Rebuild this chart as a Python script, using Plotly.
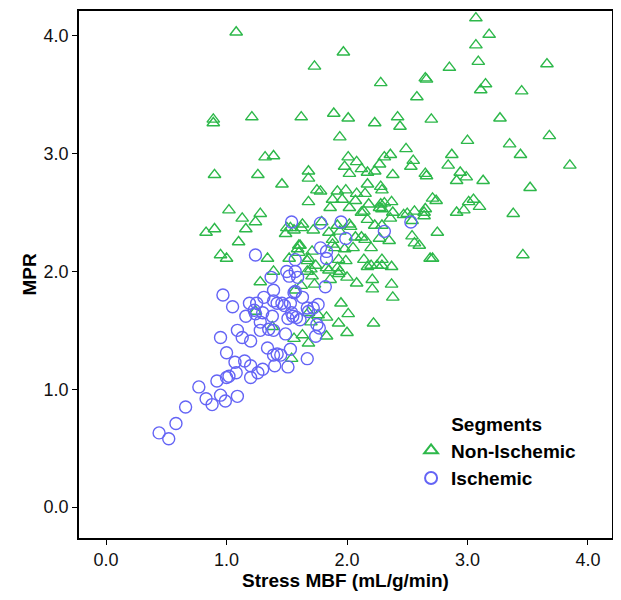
import plotly.graph_objects as go

# Non-Ischemic segments (Stress MBF, MPR)
non_isch_mbf = [1.08, 3.07, 3.18, 3.07, 3.09, 3.66, 2.85, 1.97, 2.28, 2.65, 2.66, 3.15, 3.11, 3.45, 2.58,
                1.73, 0.89, 0.89, 1.21, 1.62, 1.89, 2.01, 2.23, 2.42, 2.44, 2.70, 3.27, 1.94, 3.00, 3.35,
                3.68, 2.49, 3.44, 2.87, 2.01, 2.31, 2.36, 2.55, 2.08, 1.98, 2.27, 2.53, 2.84, 3.85, 2.12,
                2.02, 2.17, 2.23, 2.38, 2.65, 2.66, 2.94, 2.99, 3.13, 2.91, 1.32, 1.39, 0.90, 1.26, 1.68,
                1.68, 1.46, 1.75, 1.92, 1.99, 2.08, 2.15, 2.17, 1.68, 1.88, 1.96, 2.07, 2.28, 2.29, 2.18,
                2.28, 2.31, 2.37, 1.86, 2.02, 2.12, 2.14, 2.27, 2.29, 2.38, 2.36, 2.17, 2.47, 2.50, 2.56,
                2.65, 2.64, 2.71, 2.74, 2.64, 2.91, 2.97, 3.01, 1.92, 2.02, 2.03, 2.23, 2.29, 2.54, 2.75,
                1.85, 1.94, 2.07, 2.12, 2.15, 2.27, 2.35, 2.54, 2.56, 2.60, 1.88, 1.88, 1.90, 1.98, 2.05,
                2.20, 1.93, 1.99, 2.14, 2.20, 2.29, 2.29, 2.37, 2.69, 2.71, 1.92, 1.78, 1.49, 1.53, 1.63,
                1.62, 1.72, 1.61, 1.59, 1.71, 1.52, 1.68, 1.67, 1.74, 1.67, 1.71, 1.83, 1.94, 1.93, 1.85,
                1.73, 1.86, 1.62, 1.95, 2.00, 2.08, 2.21, 2.21, 2.17, 2.25, 2.37, 2.38, 3.52, 3.05, 3.10,
                3.38, 3.46, 1.02, 1.13, 1.28, 1.24, 0.83, 0.90, 1.16, 1.10, 0.95, 1.00, 1.34, 1.39, 1.28,
                1.50, 1.56, 1.79, 1.60, 1.60, 1.70, 1.57, 2.01, 1.83, 1.76, 1.68, 1.70, 1.93, 2.00, 2.22,
                1.83, 1.63, 1.56, 1.68, 1.54, 1.38, 1.24]
non_isch_mpr = [4.03, 4.15, 4.01, 3.92, 3.78, 3.76, 3.73, 3.86, 3.60, 3.64, 3.63, 3.59, 3.54, 3.53, 3.48,
                3.74, 3.29, 3.26, 3.31, 3.31, 3.34, 3.30, 3.26, 3.31, 3.23, 3.29, 3.30, 3.14, 3.11, 3.08,
                3.15, 3.04, 2.99, 2.99, 2.97, 2.97, 2.99, 2.94, 2.93, 2.89, 2.91, 2.89, 2.90, 2.90, 2.87,
                2.83, 2.84, 2.85, 2.82, 2.83, 2.81, 2.84, 2.80, 2.77, 2.77, 2.97, 2.98, 2.82, 2.82, 2.85,
                2.79, 2.74, 2.69, 2.68, 2.69, 2.66, 2.66, 2.74, 2.59, 2.61, 2.61, 2.60, 2.72, 2.69, 2.57,
                2.57, 2.58, 2.59, 2.54, 2.54, 2.50, 2.51, 2.54, 2.53, 2.50, 2.45, 2.44, 2.48, 2.49, 2.51,
                2.53, 2.50, 2.62, 2.60, 2.47, 2.50, 2.52, 2.59, 2.39, 2.40, 2.38, 2.39, 2.39, 2.43, 2.33,
                2.33, 2.34, 2.29, 2.29, 2.27, 2.28, 2.26, 2.30, 2.24, 2.22, 2.27, 2.23, 2.20, 2.19, 2.20,
                2.20, 2.10, 2.09, 2.10, 2.05, 2.10, 2.05, 2.04, 2.11, 2.11, 2.03, 2.68, 2.32, 2.37, 2.40,
                2.37, 2.35, 2.22, 2.19, 2.17, 2.11, 2.11, 2.09, 2.05, 2.00, 1.96, 2.03, 2.00, 1.98, 2.01,
                1.89, 1.93, 1.88, 1.73, 1.95, 1.90, 1.93, 1.85, 2.04, 2.05, 1.89, 1.78, 2.71, 2.61, 2.55,
                2.49, 2.14, 2.52, 2.45, 2.49, 2.42, 2.33, 2.36, 2.36, 2.25, 2.14, 2.11, 2.11, 2.00, 1.91,
                2.37, 2.35, 2.42, 2.22, 2.16, 2.02, 1.84, 1.64, 1.61, 1.63, 1.65, 1.57, 1.56, 1.48, 1.56,
                1.45, 1.46, 1.43, 1.39, 1.26, 1.53, 1.66]

# Ischemic segments (Stress MBF, MPR)
isch_mbf = [1.24, 1.54, 1.78, 1.95, 1.99, 2.31, 2.53, 1.78, 1.83, 1.83, 1.57, 1.50, 1.57, 1.52, 1.59,
            1.37, 1.39, 1.82, 1.57, 1.63, 1.31, 1.19, 1.25, 0.97, 1.05, 1.16, 1.23, 1.24, 1.30, 1.39,
            1.42, 1.46, 1.53, 1.54, 1.72, 1.76, 1.67, 1.68, 1.38, 1.48, 1.58, 1.61, 1.75, 1.77, 1.74,
            1.49, 1.51, 1.55, 1.28, 1.28, 1.35, 1.39, 0.95, 1.09, 1.13, 1.20, 1.00, 1.07, 1.15, 1.20,
            1.34, 1.39, 1.42, 1.45, 1.53, 1.40, 1.51, 1.67, 1.30, 1.26, 1.20, 1.08, 1.02, 1.00, 0.92,
            0.77, 0.83, 0.88, 0.95, 0.99, 1.09, 0.66, 0.58, 0.44, 0.52, 1.56]
isch_mpr = [2.14, 2.42, 2.41, 2.42, 2.28, 2.34, 2.42, 2.20, 2.17, 2.11, 2.10, 2.00, 2.00, 1.96, 1.95,
            1.95, 1.84, 1.87, 1.83, 1.78, 1.78, 1.73, 1.73, 1.80, 1.70, 1.62, 1.67, 1.64, 1.65, 1.75,
            1.73, 1.73, 1.73, 1.65, 1.69, 1.72, 1.69, 1.66, 1.62, 1.71, 1.61, 1.59, 1.55, 1.52, 1.45,
            1.47, 1.60, 1.62, 1.57, 1.50, 1.51, 1.50, 1.44, 1.50, 1.44, 1.41, 1.31, 1.23, 1.24, 1.20,
            1.35, 1.29, 1.30, 1.29, 1.34, 1.20, 1.19, 1.26, 1.17, 1.14, 1.10, 1.14, 1.11, 1.10, 1.07,
            1.02, 0.92, 0.87, 0.95, 0.90, 0.94, 0.85, 0.71, 0.63, 0.58, 1.82]

tick_vals = [0, 1, 2, 3, 4]
tick_text = ["0.0", "1.0", "2.0", "3.0", "4.0"]

FONT = "Liberation Sans, Arial, sans-serif"
GREEN = "#2db84a"
BLUE = "#6464f5"

fig = go.Figure()
fig.add_trace(go.Scatter(
    x=non_isch_mbf, y=non_isch_mpr, mode="markers", name="<b>Non-Ischemic</b>",
    marker=dict(symbol="triangle-up-open", size=11, color=GREEN, line=dict(width=1.4, color=GREEN)),
))
fig.add_trace(go.Scatter(
    x=isch_mbf, y=isch_mpr, mode="markers", name="<b>Ischemic</b>",
    marker=dict(symbol="circle-open", size=12, color=BLUE, line=dict(width=1.4, color=BLUE)),
))

axis_common = dict(
    showgrid=False, zeroline=False, showline=True, linecolor="black", linewidth=1.6,
    mirror=True, ticks="outside", ticklen=5, tickwidth=1.2, tickcolor="black",
    tickvals=tick_vals, ticktext=tick_text,
    tickfont=dict(family=FONT, size=18, color="#111111"),
)

fig.update_layout(
    width=613, height=592,
    margin=dict(l=71, r=9, t=1, b=62),
    paper_bgcolor="white", plot_bgcolor="white",
    showlegend=True,
    legend=dict(
        x=0.623, y=0.249, xanchor="left", yanchor="top",
        bgcolor="rgba(0,0,0,0)",
        title=dict(text="<b>Segments</b>", side="top center",
                   font=dict(family=FONT, size=19, color="black")),
        font=dict(family=FONT, size=19, color="black"),
        itemsizing="constant", tracegroupgap=0,
    ),
    xaxis=dict(range=[-0.225, 4.2],
               title=dict(text="<b>Stress MBF (mL/g/min)</b>", standoff=4,
                          font=dict(family=FONT, size=19, color="black")),
               **axis_common),
    yaxis=dict(range=[-0.262, 4.21],
               title=dict(text="<b>MPR</b>", standoff=2,
                          font=dict(family=FONT, size=19, color="black")),
               **axis_common),
)

fig.write_html("out.html")
